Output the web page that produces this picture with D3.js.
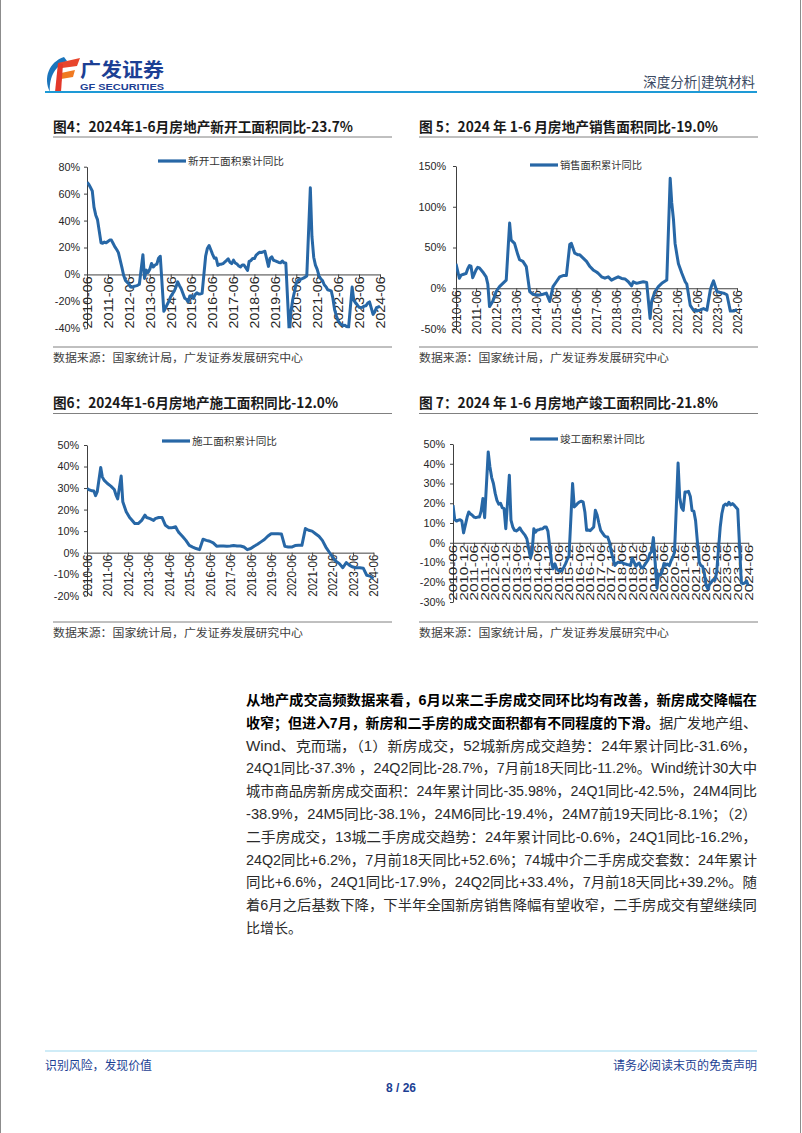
<!DOCTYPE html>
<html>
<head>
<meta charset="utf-8">
<script src="https://cdn.jsdelivr.net/npm/d3@7"></script>
<style>
body{margin:0;background:#fff}
svg{display:block}
text{font-family:"Liberation Sans",Arial,"Noto Sans CJK SC",sans-serif}
.cjk{font-family:"Noto Sans CJK SC",sans-serif}
</style>
</head>
<body>
<script>
// 新开工面积累计同比 (%)
var newStarts = [["2010-06",68.5],["2010-07",67],["2010-08",64.5],["2010-09",62],["2010-10",50],["2010-11",44],["2010-12",40.7],
["2011-02",23.5],["2011-03",23.1],["2011-04",24],["2011-05",23.5],["2011-06",24.5],["2011-07",25.5],["2011-08",25.5],["2011-09",23],["2011-10",20.5],["2011-11",18.5],["2011-12",16.2],
["2012-02",5.1],["2012-03",-0.6],["2012-04",-4.4],["2012-05",-5.7],["2012-06",-7.1],["2012-07",-9.3],["2012-08",-9.5],["2012-09",-8.8],["2012-10",-8.5],["2012-11",-8.1],["2012-12",-7.3],
["2013-02",14.7],["2013-03",-3.0],["2013-04",3.2],["2013-05",1.4],["2013-06",3.8],["2013-07",8.1],["2013-08",5.5],["2013-09",7.0],["2013-10",7.6],["2013-11",12.0],["2013-12",13.5],
["2014-02",-27.4],["2014-03",-25.2],["2014-04",-22.3],["2014-05",-19.8],["2014-06",-16.4],["2014-07",-14.4],["2014-08",-12.5],["2014-09",-9.3],["2014-10",-5.5],["2014-11",-8.4],["2014-12",-10.7],
["2015-02",-17.7],["2015-03",-18.4],["2015-04",-20.5],["2015-05",-16.0],["2015-06",-15.8],["2015-07",-17.8],["2015-08",-15.0],["2015-09",-13.7],["2015-10",-14.5],["2015-11",-14.5],["2015-12",-14.0],
["2016-02",13.7],["2016-03",19.2],["2016-04",21.4],["2016-05",18.3],["2016-06",14.9],["2016-07",12.1],["2016-08",12.2],["2016-09",6.7],["2016-10",7.5],["2016-11",7.6],["2016-12",8.1],
["2017-02",10.4],["2017-03",11.6],["2017-04",9.0],["2017-05",8.0],["2017-06",10.6],["2017-07",8.5],["2017-08",7.7],["2017-09",6.3],["2017-10",5.6],["2017-11",7.0],["2017-12",7.0],
["2018-02",2.9],["2018-03",9.7],["2018-04",10.3],["2018-05",11.8],["2018-06",11.8],["2018-07",14.4],["2018-08",15.5],["2018-09",16.4],["2018-10",16.3],["2018-11",16.8],["2018-12",17.2],
["2019-02",6.0],["2019-03",11.9],["2019-04",13.1],["2019-05",10.5],["2019-06",10.1],["2019-07",9.5],["2019-08",8.9],["2019-09",8.6],["2019-10",10.0],["2019-11",8.6],["2019-12",8.5],
["2020-02",-44.9],["2020-03",-27.2],["2020-04",-18.4],["2020-05",-12.8],["2020-06",-6.3],["2020-07",-4.5],["2020-08",-3.6],["2020-09",-3.4],["2020-10",-2.8],["2020-11",-2.0],["2020-12",-1.2],
["2021-02",64.3],["2021-03",28.2],["2021-04",12.8],["2021-05",6.9],["2021-06",3.8],["2021-07",-0.9],["2021-08",-3.2],["2021-09",-4.5],["2021-10",-7.7],["2021-11",-9.1],["2021-12",-11.4],
["2022-02",-12.2],["2022-03",-17.5],["2022-04",-26.3],["2022-05",-30.6],["2022-06",-34.4],["2022-07",-36.1],["2022-08",-37.2],["2022-09",-38.0],["2022-10",-37.8],["2022-11",-38.9],["2022-12",-39.4],
["2023-02",-9.4],["2023-03",-19.2],["2023-04",-21.2],["2023-05",-22.6],["2023-06",-24.3],["2023-07",-24.5],["2023-08",-24.4],["2023-09",-23.4],["2023-10",-23.2],["2023-11",-21.2],["2023-12",-20.4],
["2024-02",-29.7],["2024-03",-27.8],["2024-04",-24.6],["2024-05",-24.2],["2024-06",-23.7]];

// 销售面积累计同比 (%)
var salesArea = [["2010-06",30],["2010-08",12.3],["2010-09",16],["2010-11",17.5],["2010-12",18],["2011-01",24],["2011-02",27.8],["2011-03",27],["2011-04",13],["2011-06",22.5],["2011-07",25.7],["2011-08",25],["2011-10",20],["2011-12",14],["2012-01",5],
["2012-02",-22.5],["2012-04",-16],["2012-06",-4],["2012-08",2],["2012-10",6],["2012-12",10],["2013-02",80],["2013-03",59],["2013-05",55],["2013-07",41],["2013-08",35],["2013-10",33],["2013-12",26.6],
["2014-02",-4],["2014-04",-7.4],["2014-06",-8.2],["2014-08",-8.2],["2014-10",-7.4],["2014-12",-6],["2015-02",-16.3],["2015-04",2],["2015-06",8],["2015-08",14],["2015-10",15.5],["2015-12",15.5],
["2016-02",54],["2016-03",55],["2016-05",43],["2016-07",41],["2016-08",41],["2016-10",37],["2016-12",33],["2017-02",26.6],["2017-04",22.5],["2017-06",20],["2017-07",18.4],["2017-09",14],["2017-11",12.3],
["2018-01",14],["2018-03",10],["2018-05",12],["2018-07",14],["2018-09",12],["2018-11",11.4],["2019-01",8],["2019-03",3],["2019-04",8],["2019-06",6],["2019-08",7],["2019-10",8],["2019-12",7],
["2020-02",-37],["2020-03",-16],["2020-05",-4],["2020-07",2],["2020-09",6],["2020-12",10],["2021-02",135],["2021-03",105],["2021-04",85],["2021-05",55],["2021-06",42],["2021-07",30],["2021-09",18.4],["2021-11",8],["2021-12",5],
["2022-02",-21],["2022-04",-27],["2022-06",-28],["2022-08",-26.6],["2022-10",-25],["2022-12",-27],["2023-02",-2],["2023-03",4],["2023-04",9],["2023-06",-4],["2023-08",-5.3],["2023-10",-6],["2023-12",-8],
["2024-02",-28],["2024-04",-28],["2024-06",-26]];

// 施工面积累计同比 (%)
var underConstruction = [["2010-06",29.8],["2010-07",29.3],["2010-09",28.7],["2010-10",28.6],["2010-11",26.5],["2010-12",28.3],["2011-02",39.6],["2011-03",35.2],["2011-04",33.7],["2011-06",32.1],["2011-08",30.9],["2011-10",29.3],["2011-11",26.7],["2011-12",25],
["2012-02",35.6],["2012-03",23.6],["2012-05",19],["2012-07",16.3],["2012-08",15.4],["2012-10",13.5],["2012-12",13.5],["2013-02",15],["2013-04",17.4],["2013-05",16.3],["2013-07",15.8],["2013-09",15],["2013-10",15.8],["2013-12",16.3],
["2014-02",16.3],["2014-04",12.7],["2014-06",11.6],["2014-08",11.6],["2014-10",12],["2014-11",10.4],["2014-12",9.2],["2015-02",7.5],["2015-04",5.7],["2015-06",3.4],["2015-08",2.6],["2015-10",1.9],["2015-12",1.4],
["2016-02",6.2],["2016-04",5.7],["2016-06",5.3],["2016-08",4.5],["2016-10",3],["2016-12",3.1],["2017-02",3.1],["2017-04",3.0],["2017-06",3.1],["2017-08",3.3],["2017-10",3.1],["2017-12",3.1],
["2018-02",2.6],["2018-04",1.4],["2018-06",1.9],["2018-08",3],["2018-10",3.9],["2018-12",5],["2019-02",6.1],["2019-04",7.6],["2019-06",8.8],["2019-08",8.8],["2019-10",8.8],["2019-12",8.7],
["2020-02",2.9],["2020-04",2.6],["2020-06",2.6],["2020-08",3.3],["2020-10",3.4],["2020-12",3.4],["2021-02",11.2],["2021-04",10.4],["2021-06",10.0],["2021-08",8.8],["2021-10",7.6],["2021-12",5.7],
["2022-02",2.6],["2022-04",0.3],["2022-06",-2],["2022-08",-4],["2022-10",-5.1],["2022-12",-7],["2023-02",-4.6],["2023-04",-5.9],["2023-06",-6.7],["2023-08",-7],["2023-10",-7],["2023-12",-7.2],
["2024-02",-10.5],["2024-04",-10.9],["2024-06",-12]];

// 竣工面积累计同比 (%)
var completions = [["2010-06",19],["2010-07",11.7],["2010-08",11],["2010-09",11.4],["2010-10",11.7],["2010-11",11],["2010-12",5],
["2011-02",13],["2011-03",15.6],["2011-04",14.5],["2011-05",13.9],["2011-06",13],["2011-07",12.7],["2011-08",13],["2011-09",13],["2011-10",16],["2011-11",22.4],["2011-12",12.7],
["2012-02",46],["2012-03",38.5],["2012-04",33],["2012-05",30],["2012-06",25],["2012-07",21.5],["2012-08",19.5],["2012-09",20],["2012-10",17.8],["2012-11",17.3],["2012-12",7.1],
["2013-02",34.2],["2013-03",11.4],["2013-04",8],["2013-05",6.3],["2013-06",6],["2013-07",6.6],["2013-08",7.6],["2013-09",6],["2013-10",4.9],["2013-11",3.7],["2013-12",2.0],
["2014-02",-7.7],["2014-03",-5],["2014-04",7.1],["2014-05",5.4],["2014-06",6.5],["2014-07",6.6],["2014-08",7],["2014-09",7.1],["2014-10",8],["2014-11",8],["2014-12",5.9],
["2015-02",-9.8],["2015-03",-13.2],["2015-04",-10.7],["2015-05",-13],["2015-06",-14],["2015-07",-14.5],["2015-08",-14],["2015-09",-12.5],["2015-10",-10.7],["2015-11",-8.5],["2015-12",-6.9],
["2016-02",30],["2016-03",18.1],["2016-04",19],["2016-05",20],["2016-06",20.7],["2016-07",21],["2016-08",20.7],["2016-09",15.6],["2016-10",6.3],["2016-11",6.5],["2016-12",6.1],
["2017-02",8],["2017-03",16.4],["2017-04",14],["2017-05",10],["2017-06",6.3],["2017-07",5],["2017-08",3.7],["2017-09",3],["2017-10",2.9],["2017-11",0.3],["2017-12",-4.4],
["2018-02",-11.5],["2018-03",-10.5],["2018-04",-9.8],["2018-05",-10],["2018-06",-9.8],["2018-07",-10.5],["2018-08",-10.7],["2018-09",-11],["2018-10",-11.2],["2018-11",-11.5],["2018-12",-7.8],
["2019-02",-11.9],["2019-03",-10.8],["2019-04",-10.3],["2019-05",-12.4],["2019-06",-12.7],["2019-07",-11.3],["2019-08",-10.0],["2019-09",-8.6],["2019-10",-5.5],["2019-11",-4.5],["2019-12",2.6],
["2020-02",-22.9],["2020-03",-15.8],["2020-04",-16.4],["2020-05",-14.5],["2020-06",-10.5],["2020-07",-11.4],["2020-08",-10.8],["2020-09",-11.6],["2020-10",-9.2],["2020-11",-7.3],["2020-12",-4.9],
["2021-02",40.4],["2021-03",22.9],["2021-04",17.9],["2021-05",16.4],["2021-06",25.7],["2021-07",25.7],["2021-08",26.0],["2021-09",23.4],["2021-10",16.3],["2021-11",16.0],["2021-12",11.2],
["2022-02",-9.8],["2022-03",-11.5],["2022-04",-11.9],["2022-05",-15.3],["2022-06",-21.5],["2022-07",-23.3],["2022-08",-21.1],["2022-09",-19.9],["2022-10",-18.7],["2022-11",-19.0],["2022-12",-15.0],
["2023-02",8.0],["2023-03",14.7],["2023-04",18.8],["2023-05",19.6],["2023-06",19.0],["2023-07",20.5],["2023-08",19.2],["2023-09",19.8],["2023-10",19.0],["2023-11",17.9],["2023-12",17.0],
["2024-02",-20.2],["2024-03",-20.7],["2024-04",-20.4],["2024-05",-19.3],["2024-06",-21.8]];

var yearTicks = ["2010-06","2011-06","2012-06","2013-06","2014-06","2015-06","2016-06","2017-06","2018-06","2019-06","2020-06","2021-06","2022-06","2023-06","2024-06"];
var halfYearTicks = ["2010-06","2010-12","2011-06","2011-12","2012-06","2012-12","2013-06","2013-12","2014-06","2014-12","2015-06","2015-12","2016-06","2016-12","2017-06","2017-12","2018-06","2018-12","2019-06","2019-12","2020-06","2020-12","2021-06","2021-12","2022-06","2022-12","2023-06","2023-12","2024-06"];

var titles = ["图4：2024年1-6月房地产新开工面积同比-23.7%","图 5：2024 年 1-6 月房地产销售面积同比-19.0%","图6：2024年1-6月房地产施工面积同比-12.0%","图 7：2024 年 1-6 月房地产竣工面积同比-21.8%"];
var legendNames = ["新开工面积累计同比","销售面积累计同比","施工面积累计同比","竣工面积累计同比"];
var sourceText = "数据来源：国家统计局，广发证券发展研究中心";

var paragraph = [
  [["从地产成交高频数据来看，6月以来二手房成交同环比均有改善，新房成交降幅在",1]],
  [["收窄；但进入7月，新房和二手房的成交面积都有不同程度的下滑。",1],["据广发地产组、",0]],
  [["Wind、克而瑞，（1）新房成交，52城新房成交趋势：24年累计同比-31.6%，",0]],
  [["24Q1同比-37.3% ，24Q2同比-28.7%，7月前18天同比-11.2%。Wind统计30大中",0]],
  [["城市商品房新房成交面积：24年累计同比-35.98%，24Q1同比-42.5%，24M4同比",0]],
  [["-38.9%，24M5同比-38.1%，24M6同比-19.4%，24M7前19天同比-8.1%；（2）",0]],
  [["二手房成交，13城二手房成交趋势：24年累计同比-0.6%，24Q1同比-16.2%，",0]],
  [["24Q2同比+6.2%，7月前18天同比+52.6%；74城中介二手房成交套数：24年累计",0]],
  [["同比+6.6%，24Q1同比-17.9%，24Q2同比+33.4%，7月前18天同比+39.2%。随",0]],
  [["着6月之后基数下降，下半年全国新房销售降幅有望收窄，二手房成交有望继续同",0]],
  [["比增长。",0]]
];

var width = 802, height = 1133;
var lineColor = "#2767a6";
var navy = "#1c3f94";
var parse = d3.timeParse("%Y-%m");
var fmt = d3.timeFormat("%Y-%m");

var svg = d3.select("body").append("svg").attr("width", width).attr("height", height);

// page edges
svg.append("line").attr("x1",0.5).attr("x2",0.5).attr("y1",0).attr("y2",height).attr("stroke","#8c8c8c");
svg.append("line").attr("x1",800.5).attr("x2",800.5).attr("y1",0).attr("y2",height).attr("stroke","#8c8c8c");

// header logo
svg.append("path").attr("d","M64,57 C49,62 43,78 50,92 C49,80 53,67 67,61 Z").attr("fill","#1b75bc");
svg.append("path").attr("d","M58,63 L80,58 L77,66 L62,68 Z").attr("fill","#e8452c");
svg.append("path").attr("d","M61,73 L75,70 L73,77 L61,79 Z").attr("fill","#f07a22");
svg.append("path").attr("d","M58,63 L63,64 L61,92 L55,92 Z").attr("fill","#e3382a");
svg.append("text").attr("class","cjk").attr("x",80).attr("y",77).attr("font-size",19).attr("font-weight","bold")
  .attr("fill",navy).attr("textLength",84).attr("lengthAdjust","spacingAndGlyphs").text("广发证券");
svg.append("text").attr("x",80).attr("y",90).attr("font-size",9).attr("font-weight","bold")
  .attr("fill",navy).attr("textLength",84).attr("lengthAdjust","spacingAndGlyphs").text("GF SECURITIES");
svg.append("text").attr("class","cjk").attr("x",755).attr("y",87).attr("font-size",13.5).attr("text-anchor","end")
  .attr("fill","#3b4a63").text("深度分析|建筑材料");
svg.append("line").attr("x1",45).attr("x2",757).attr("y1",92).attr("y2",92).attr("stroke","#1e9ad6").attr("stroke-width",2);

function drawChart(cfg) {
  var data = cfg.data.map(function(d){ return {date: parse(d[0]), value: d[1]}; });
  var x = d3.scaleTime().domain([parse("2010-06"), parse("2024-06")]).range([cfg.x0, cfg.x1]);
  var y = d3.scaleLinear().domain(cfg.yDomain).range([cfg.yBottom, cfg.yTop]);

  // title + rules
  svg.append("text").attr("class","cjk").attr("x",cfg.left).attr("y",cfg.titleY)
    .attr("font-size",14).attr("font-weight","bold").attr("fill","#1a1a1a")
    .attr("textLength",cfg.titleLen).attr("lengthAdjust","spacingAndGlyphs").text(cfg.title);
  svg.append("line").attr("x1",cfg.left).attr("x2",cfg.left+339).attr("y1",cfg.titleY+5.5).attr("y2",cfg.titleY+5.5)
    .attr("stroke","#808080").attr("stroke-width",1);
  svg.append("line").attr("x1",cfg.left).attr("x2",cfg.left+339).attr("y1",cfg.bottomRule).attr("y2",cfg.bottomRule)
    .attr("stroke","#808080").attr("stroke-width",1);
  if (cfg.source) {
    svg.append("text").attr("class","cjk").attr("x",cfg.left).attr("y",cfg.bottomRule+14.5)
      .attr("font-size",11).attr("fill","#404040").attr("textLength",250).attr("lengthAdjust","spacingAndGlyphs").text(sourceText);
  }

  // legend
  svg.append("line").attr("x1",cfg.legendX).attr("x2",cfg.legendX+28).attr("y1",cfg.legendY).attr("y2",cfg.legendY)
    .attr("stroke",lineColor).attr("stroke-width",3.2);
  svg.append("text").attr("class","cjk").attr("x",cfg.legendX+30).attr("y",cfg.legendY+3.6)
    .attr("font-size",10).attr("fill","#333").attr("textLength",cfg.legendLen).attr("lengthAdjust","spacingAndGlyphs").text(cfg.legend);

  // y axis
  var yAxis = d3.axisLeft(y).tickValues(d3.range(cfg.yDomain[0], cfg.yDomain[1] + 0.1, cfg.yStep))
    .tickSize(3).tickSizeOuter(0).tickPadding(cfg.yPad).tickFormat(function(d){ return d + "%"; });
  var gy = svg.append("g").attr("transform","translate(" + cfg.x0 + ",0)").call(yAxis);
  gy.selectAll("text").attr("font-size",10.8).attr("fill","#262626").attr("font-family","Liberation Sans, Arial");
  gy.selectAll("line,path").attr("stroke","#404040");

  // x axis on zero line
  var xAxis = d3.axisBottom(x).tickValues(cfg.ticks.map(parse)).tickSize(3).tickSizeOuter(0).tickFormat(fmt);
  var gx = svg.append("g").attr("transform","translate(0," + y(0) + ")").call(xAxis);
  gx.selectAll("line,path").attr("stroke","#404040");
  gx.selectAll("text")
    .attr("transform","rotate(-90)").attr("text-anchor","end")
    .attr("x",-2).attr("y",0).attr("dy","0.36em")
    .attr("font-size",cfg.xFont).attr("fill","#262626").attr("font-family","Liberation Sans, Arial")
    .attr("textLength",cfg.xLen).attr("lengthAdjust","spacingAndGlyphs");

  // series
  var clipId = "clip" + cfg.id;
  svg.append("clipPath").attr("id",clipId).append("rect")
    .attr("x",cfg.x0).attr("y",cfg.yTop-2).attr("width",cfg.x1-cfg.x0+4).attr("height",cfg.yBottom-cfg.yTop+2);
  var line = d3.line().x(function(d){ return x(d.date); }).y(function(d){ return y(d.value); });
  svg.append("path").datum(data).attr("d",line).attr("clip-path","url(#" + clipId + ")")
    .attr("fill","none").attr("stroke",lineColor).attr("stroke-width",3).attr("stroke-linejoin","round");
}

drawChart({id:1, data:newStarts, title:titles[0], titleLen:300, left:53, titleY:131.5, bottomRule:347, source:true,
  x0:87, x1:380, yDomain:[-40,80], yStep:20, yTop:166.7, yBottom:328.3, yPad:4,
  legend:legendNames[0], legendX:158, legendY:161, legendLen:96, ticks:yearTicks, xFont:12, xLen:52});
drawChart({id:2, data:salesArea, title:titles[1], titleLen:299, left:419, titleY:131.5, bottomRule:347, source:true,
  x0:456, x1:737, yDomain:[-50,150], yStep:50, yTop:166, yBottom:329, yPad:7,
  legend:legendNames[1], legendX:530, legendY:165, legendLen:82, ticks:yearTicks, xFont:12, xLen:44});
drawChart({id:3, data:underConstruction, title:titles[2], titleLen:285, left:53, titleY:408, bottomRule:622, source:true,
  x0:87, x1:373.5, yDomain:[-20,50], yStep:10, yTop:445, yBottom:595.7, yPad:5,
  legend:legendNames[2], legendX:162, legendY:441, legendLen:85, ticks:yearTicks, xFont:12, xLen:42});
drawChart({id:4, data:completions, title:titles[3], titleLen:299, left:419, titleY:408, bottomRule:622, source:true,
  x0:453, x1:748.3, yDomain:[-30,50], yStep:10, yTop:444, yBottom:602, yPad:5,
  legend:legendNames[3], legendX:530, legendY:439, legendLen:85, ticks:halfYearTicks, xFont:10.5, xLen:56});

// body paragraph
paragraph.forEach(function(parts, i) {
  var t = svg.append("text").attr("x",246).attr("y",705 + i * 22.8).attr("font-size",14);
  if (i < paragraph.length - 1) t.attr("textLength",511).attr("lengthAdjust","spacingAndGlyphs");
  parts.forEach(function(p) {
    t.append("tspan").attr("font-weight", p[1] ? "bold" : "normal").attr("fill", p[1] ? "#000" : "#2b2b2b").text(p[0]);
  });
});

// footer
svg.append("line").attr("x1",45).attr("x2",757).attr("y1",1051).attr("y2",1051).attr("stroke","#bfe6f5").attr("stroke-width",1.5);
svg.append("text").attr("class","cjk").attr("x",45).attr("y",1070).attr("font-size",12).attr("fill",navy)
  .attr("textLength",107).attr("lengthAdjust","spacingAndGlyphs").text("识别风险，发现价值");
svg.append("text").attr("class","cjk").attr("x",757).attr("y",1070).attr("font-size",12).attr("fill",navy)
  .attr("text-anchor","end").text("请务必阅读末页的免责声明");
svg.append("text").attr("x",401).attr("y",1092).attr("font-size",12).attr("font-weight","bold").attr("fill",navy)
  .attr("text-anchor","middle").text("8 / 26");
</script>
</body>
</html>
